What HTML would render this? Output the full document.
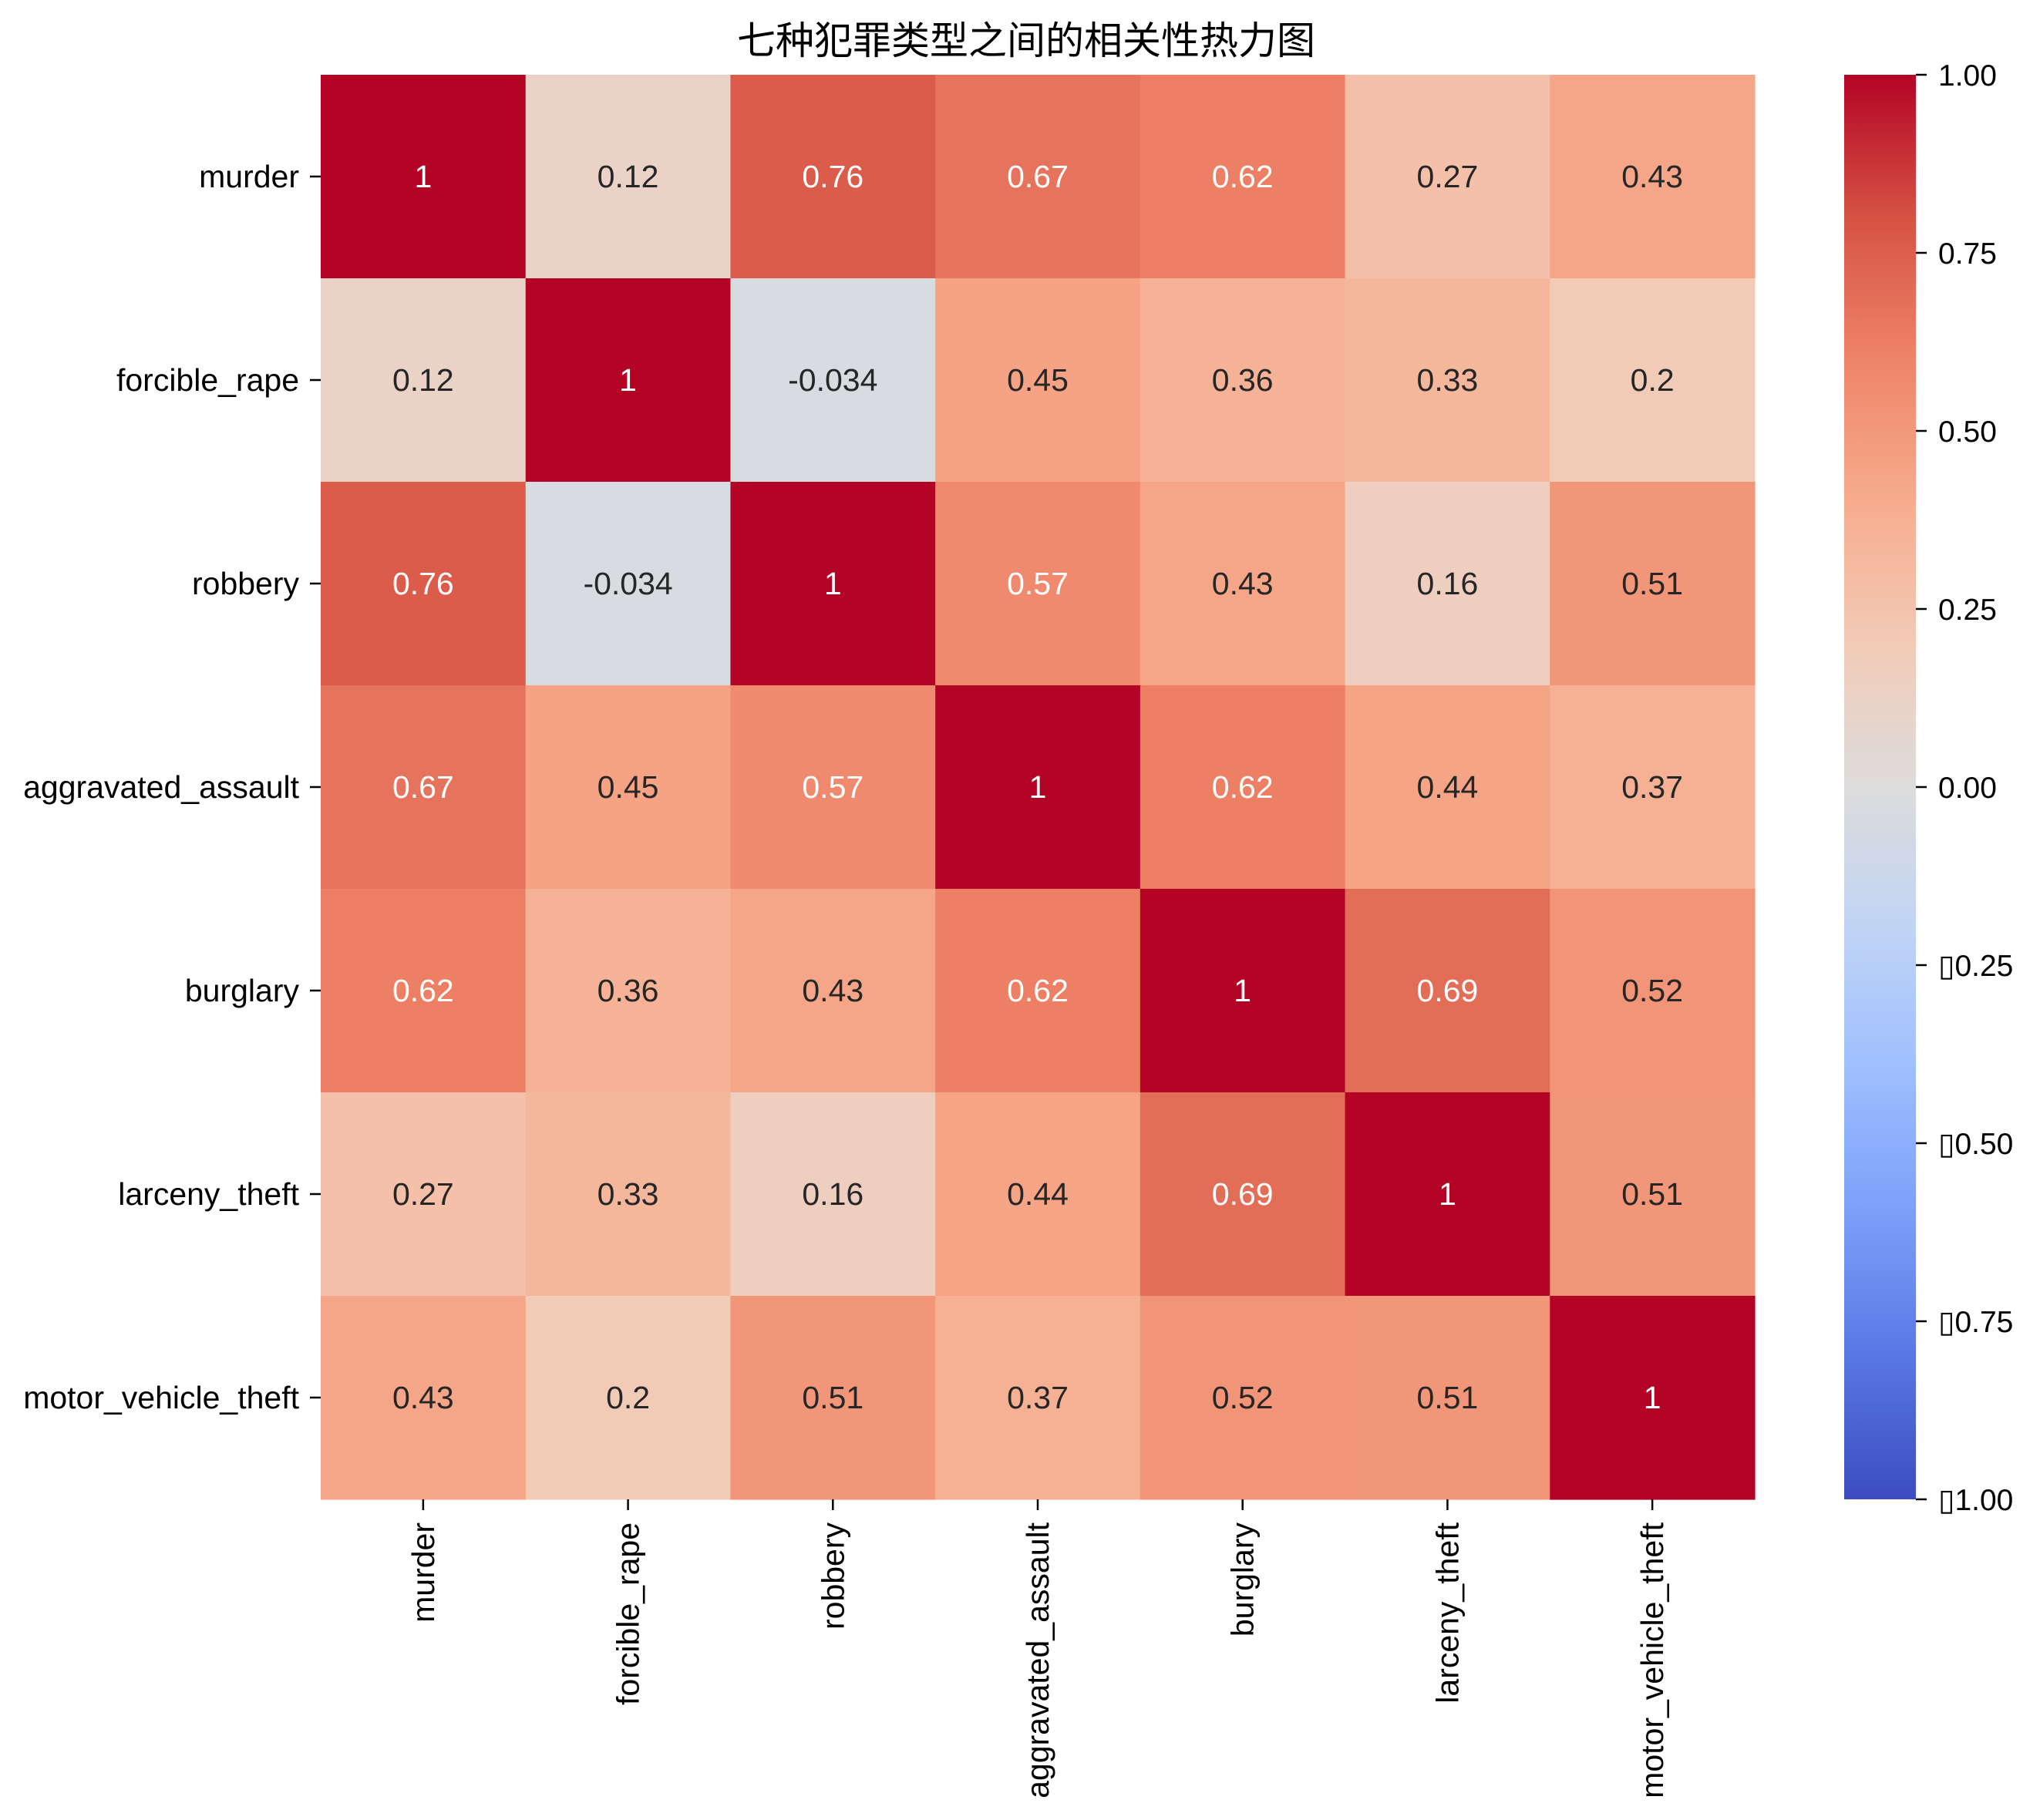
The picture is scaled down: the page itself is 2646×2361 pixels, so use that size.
<!DOCTYPE html>
<html><head><meta charset="utf-8"><style>
body{margin:0;background:#fff;}
svg{display:block;font-family:"Liberation Sans","Noto Sans CJK SC",sans-serif;}
</style></head><body>
<svg id="chart" width="2646" height="2361" viewBox="0 0 2646 2361" xmlns="http://www.w3.org/2000/svg">
<defs>
<linearGradient id="cbgrad" x1="0" y1="1" x2="0" y2="0">
<stop offset="0" stop-color="#3b4cc0"/><stop offset="0.1" stop-color="#5977e3"/><stop offset="0.2" stop-color="#7b9ff9"/><stop offset="0.3" stop-color="#9ebeff"/><stop offset="0.4" stop-color="#c0d4f5"/><stop offset="0.5" stop-color="#dddcdc"/><stop offset="0.6" stop-color="#f2cbb7"/><stop offset="0.7" stop-color="#f7ac8e"/><stop offset="0.8" stop-color="#ee8468"/><stop offset="0.9" stop-color="#d65244"/><stop offset="1" stop-color="#b40426"/>
</linearGradient>
</defs>
<text x="1331" y="70" text-anchor="middle" font-size="50" fill="#000">七种犯罪类型之间的相关性热力图</text>
<g id="cells"></g>
<g id="ylabels"></g>
<g id="xlabels"></g>
<g id="colorbar">
<rect x="2392" y="97" width="93" height="1848" fill="url(#cbgrad)"/>
</g>
</svg>
<script>
const categories = ["murder","forcible_rape","robbery","aggravated_assault","burglary","larceny_theft","motor_vehicle_theft"];
const row0 = [1, 0.12, 0.76, 0.67, 0.62, 0.27, 0.43];
const row1 = [0.12, 1, -0.034, 0.45, 0.36, 0.33, 0.2];
const row2 = [0.76, -0.034, 1, 0.57, 0.43, 0.16, 0.51];
const row3 = [0.67, 0.45, 0.57, 1, 0.62, 0.44, 0.37];
const row4 = [0.62, 0.36, 0.43, 0.62, 1, 0.69, 0.52];
const row5 = [0.27, 0.33, 0.16, 0.44, 0.69, 1, 0.51];
const row6 = [0.43, 0.2, 0.51, 0.37, 0.52, 0.51, 1];
const matrix = [row0,row1,row2,row3,row4,row5,row6];
const cbTicks = [1, 0.75, 0.5, 0.25, 0, -0.25, -0.5, -0.75, -1];
const cbTickLabels = ["1.00","0.75","0.50","0.25","0.00","▯0.25","▯0.50","▯0.75","▯1.00"];

const NS = "http://www.w3.org/2000/svg";
const L = 416, T = 97, R = 2276, B = 1945;
const n = categories.length;
const cw = (R - L) / n, ch = (B - T) / n;
const xPos = i => L + i * cw;
const yPos = i => T + i * ch;
const cbY = v => B - (v + 1) / 2 * (B - T);
const stops = ["#3b4cc0","#5977e3","#7b9ff9","#9ebeff","#c0d4f5","#dddcdc","#f2cbb7","#f7ac8e","#ee8468","#d65244","#b40426"].map(h => [1,3,5].map(k => parseInt(h.substr(k,2),16)));
function color(v){
  let t = Math.max(0, Math.min(1, (v + 1) / 2)) * 10;
  let i = Math.min(9, Math.floor(t)), f = t - i;
  const c = stops[i].map((a, k) => Math.round(a + (stops[i+1][k] - a) * f));
  return "rgb(" + c.join(",") + ")";
}
function fmt(v){ return String(v); }
function mk(tag, attrs, parent){
  const e = document.createElementNS(NS, tag);
  for (const k in attrs) e.setAttribute(k, attrs[k]);
  parent.appendChild(e);
  return e;
}
const cells = document.getElementById("cells");
for (let r = 0; r < n; r++){
  for (let c = 0; c < n; c++){
    const v = matrix[r][c];
    const rect = mk("rect", {x: xPos(c), y: yPos(r), width: cw + 0.6, height: ch + 0.6, fill: color(v)}, cells);
    
    
    const t = mk("text", {x: xPos(c) + cw / 2, y: yPos(r) + ch / 2 + 14, "text-anchor": "middle", "font-size": 41, fill: v >= 0.55 ? "#ffffff" : "#262626"}, cells);
    t.textContent = fmt(v);
    
    
  }
}
const yl = document.getElementById("ylabels");
const xl = document.getElementById("xlabels");
categories.forEach((name, i) => {
  const cy = yPos(i) + ch / 2;
  const tk = mk("line", {x1: 402, x2: L, y1: cy, y2: cy, stroke: "#000", "stroke-width": 2.5}, yl);
  
  
  const t = mk("text", {x: 388, y: cy + 14, "text-anchor": "end", "font-size": 41, fill: "#000"}, yl);
  t.textContent = name;
  
  
  const cx = xPos(i) + cw / 2;
  const tk2 = mk("line", {x1: cx, x2: cx, y1: B, y2: B + 14, stroke: "#000", "stroke-width": 2.5}, xl);
  
  
  const t2 = mk("text", {x: 0, y: 0, "text-anchor": "end", "font-size": 41, fill: "#000", transform: "translate(" + (cx + 14) + "," + (B + 30) + ") rotate(-90)"}, xl);
  t2.textContent = name;
  
  
});
const cb = document.getElementById("colorbar");
cbTicks.forEach((v, i) => {
  const y = cbY(v);
  const tk = mk("line", {x1: 2485, x2: 2499, y1: y, y2: y, stroke: "#000", "stroke-width": 2.5}, cb);
  
  
  const t = mk("text", {x: 2514, y: y + 14, "font-size": 39, fill: "#000"}, cb);
  t.textContent = cbTickLabels[i];
  
  
});
</script>
</body></html>
